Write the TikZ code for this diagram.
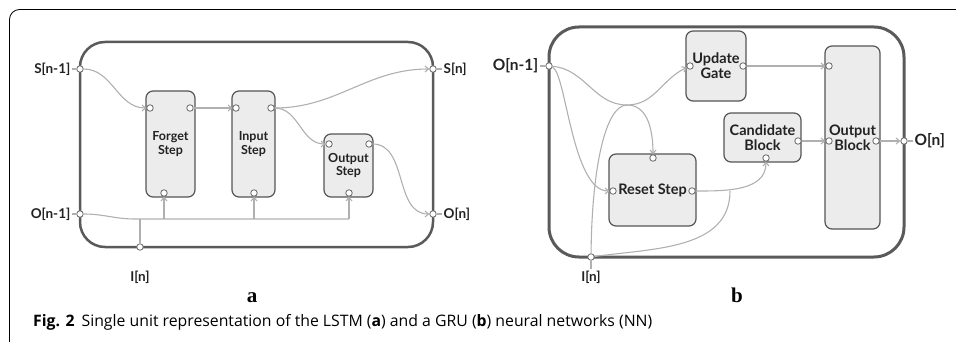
\documentclass[tikz,border=0pt]{standalone}
\usepackage{fontspec}
\setmainfont{Lato}
\newfontfamily\capfont{Open Sans}
\newfontfamily\serifb{Liberation Serif}
\usetikzlibrary{arrows.meta}
\definecolor{outg}{HTML}{5A5A5A}
\definecolor{boxg}{HTML}{555555}
\definecolor{boxfill}{HTML}{ECECEC}
\definecolor{lineg}{HTML}{B0B0B0}
\definecolor{portg}{HTML}{666666}
\definecolor{txt}{HTML}{222222}
\begin{document}
\begin{tikzpicture}[x=1pt,y=-1pt,
  outerbox/.style={draw=outg, line width=2.5pt, rounded corners=25pt, inner sep=0},
  blockbox/.style={draw=boxg, fill=boxfill, line width=1.2pt, rounded corners=7pt, align=center, inner sep=0, text=txt},
  fonta/.style={font=\bfseries\fontsize{12.5}{13.5}\selectfont},
  fontb/.style={font=\bfseries\fontsize{14.5}{15}\selectfont},
  port/.style={circle, draw=portg, fill=white, line width=0.8pt, minimum size=6.5pt, inner sep=0},
  conn/.style={draw=lineg, line width=1.1pt},
  arr/.style={conn, -{Straight Barb[length=3.5pt,width=6pt]}},
  plabel/.style={text=txt, inner sep=1.5pt},
  plabela/.style={plabel, font=\bfseries\fontsize{13.5}{15}\selectfont},
  plabelb/.style={plabel, font=\bfseries\fontsize{15.5}{17}\selectfont}
]
\useasboundingbox (0,0) rectangle (956,342);
% figure frame
\draw[black, line width=0.8pt, rounded corners=10pt] (990,9.5) -- (9.5,9.5) -- (9.5,352) -- (40,352);

% ================= panel a =================
\node[outerbox, minimum width=353pt, minimum height=205pt] (unitA) at (256.5,144.5) {};
\node[blockbox, fonta, minimum width=49pt, minimum height=106pt] (forget) at (170.5,144) {Forget\\Step};
\node[blockbox, fonta, minimum width=43pt, minimum height=106pt] (input) at (253.5,144) {Input\\Step};
\node[blockbox, fonta, minimum width=49pt, minimum height=63pt] (output) at (348.5,165.5) {Output\\Step};

\node[port] (pS1) at (80,69) {};
\node[port] (pO1) at (80,214) {};
\node[port] (pSn) at (433,69) {};
\node[port] (pOn) at (433,214) {};
\node[port] (pIa) at (140,247) {};
\node[port] (fl) at (150,108) {};
\node[port] (fr) at (190,108) {};
\node[port] (fb) at (164,193) {};
\node[port] (il) at (236,108) {};
\node[port] (ir) at (271,108) {};
\node[port] (ib) at (254,193) {};
\node[port] (ol) at (329,144) {};
\node[port] (or) at (369,144) {};
\node[port] (ob) at (349,193) {};

\node[plabela, anchor=east] (lS1) at (72,69) {S[n-1]};
\node[plabela, anchor=east] (lO1) at (72,214) {O[n-1]};
\node[plabela, anchor=west] (lSn) at (442,69) {S[n]};
\node[plabela, anchor=west] (lOn) at (442,214) {O[n]};
\node[plabela] (lIa) at (140,277) {I[n]};
\draw[conn] (pS1) -- (lS1);
\draw[conn] (pO1) -- (lO1);
\draw[conn] (pSn) -- (lSn);
\draw[conn] (pOn) -- (lOn);

\coordinate (jA) at (135,219);
\coordinate (jIa) at (140,219);
\coordinate (jF) at (164,219);
\coordinate (jI) at (254,219);
\coordinate (jC) at (349,219);

\draw[arr] (pS1) to[out=0,in=180] (fl);
\draw[arr] (fr) -- (il);
\draw[arr] (ir) to[out=0,in=180] (pSn);
\draw[arr] (ir) to[out=0,in=180] (ol);
\draw[arr] (or) to[out=0,in=180] (pOn);
\draw[conn] (pO1) to[out=0,in=180] (jA) -- (jC);
\draw[conn] (pIa) -- (jIa);
\draw[arr] (jF) -- (fb);
\draw[arr] (jI) -- (ib);
\draw[arr] (jC) -- (ob);

\node[font=\serifb\bfseries\fontsize{21}{21}\selectfont, anchor=base, text=black] (capA) at (252,302) {a};

% ================= panel b =================
\node[outerbox, line width=3pt, rounded corners=30pt, minimum width=355pt, minimum height=230pt] (unitB) at (726.5,142) {};
\node[blockbox, fontb, minimum width=60pt, minimum height=70pt] (update) at (716,66) {Update\\Gate};
\node[blockbox, fontb, minimum width=55pt, minimum height=183pt] (outblk) at (852.5,137.5) {Output\\Block};
\node[blockbox, fontb, minimum width=77pt, minimum height=49pt] (cand) at (762.5,137.5) {Candidate\\Block};
\node[blockbox, fontb, minimum width=87pt, minimum height=72pt] (reset) at (652.5,190) {Reset Step};

\node[port] (pOb1) at (549,66) {};
\node[port] (pIb) at (591,257) {};
\node[port] (pOb) at (904,141) {};
\node[port] (ul) at (690,66) {};
\node[port] (ur) at (743,66) {};
\node[port] (obt) at (829,66) {};
\node[port] (obl) at (829,141) {};
\node[port] (obr) at (876,141) {};
\node[port] (cr) at (798,141) {};
\node[port] (cb) at (766,158) {};
\node[port] (rt) at (653,158) {};
\node[port] (rl) at (613,191) {};
\node[port] (rr) at (692,191) {};

\node[plabelb, anchor=east] (lOb1) at (540,66) {O[n-1]};
\node[plabelb, anchor=west] (lOb) at (913,141) {O[n]};
\node[plabela] (lIb) at (591,277) {I[n]};
\draw[conn] (pOb1) -- (lOb1);
\draw[conn] (pOb) -- (lOb);
\draw[conn] (pIb) -- (lIb);

\coordinate (M) at (627,105);
\coordinate (J) at (730,191);

\draw[conn] (pOb1) to[out=-5,in=180] (M);
\draw[arr] (M) to[out=0,in=205] (ul);
\draw[conn] (pIb) .. controls (592,165) and (606,105) .. (M);
\draw[arr] (M) to[out=0,in=90] (rt);
\draw[arr] (pOb1) .. controls (566,72) and (572,191) .. (rl);
\draw[arr] (rr) to[out=0,in=-90] (cb);
\draw[conn] (pIb) to[out=8,in=-90] (J);
\draw[arr] (ur) -- (obt);
\draw[arr] (cr) -- (obl);
\draw[arr] (obr) -- (pOb);

\node[font=\serifb\bfseries\fontsize{21}{21}\selectfont, anchor=base, text=black] (capB) at (737,302) {b};

% ================= caption =================
\node[anchor=base west, inner sep=0, font=\capfont\fontsize{15.8}{17}\selectfont, text=black] (caption) at (33,326)
  {\textbf{Fig. 2}\hspace{7pt}Single unit representation of the LSTM (\textbf{a}) and a GRU (\textbf{b}) neural networks (NN)};
\end{tikzpicture}
\end{document}
